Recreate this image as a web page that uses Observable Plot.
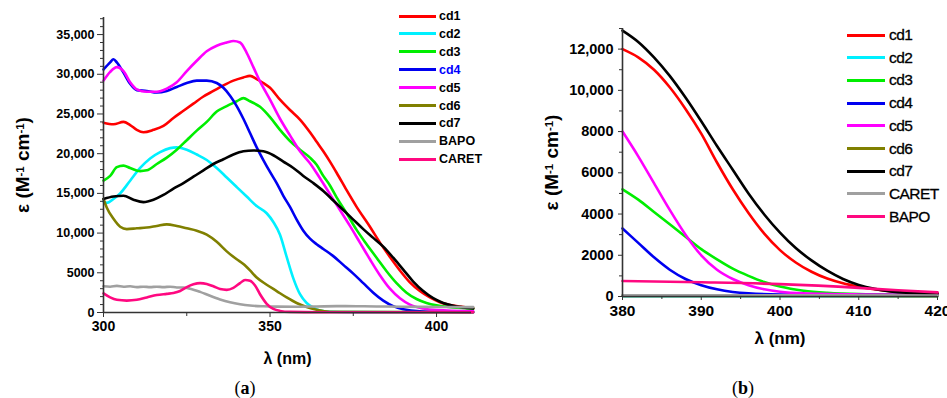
<!DOCTYPE html>
<html><head><meta charset="utf-8">
<script src="https://cdn.jsdelivr.net/npm/d3@7"></script>
<script src="https://cdn.jsdelivr.net/npm/@observablehq/plot@0.6"></script>
<style>
body{margin:0;background:#fff;}
#wrap{position:relative;width:947px;height:398px;overflow:hidden;font-family:"Liberation Sans",Arial,sans-serif;background:#fff;}
.panel{position:absolute;top:0;}
.leg{position:absolute;display:flex;align-items:center;white-space:nowrap;}
.leg i{display:block;height:3px;}
.cap{position:absolute;font-family:"Liberation Serif","DejaVu Serif",serif;font-size:18px;transform:translate(-50%,-50%);}
</style></head><body><div id="wrap"></div>
<script>
// ---------- Panel (a) data: [wavelength nm, epsilon] ----------
const a_cd1 = [[300,23900],[303,23700],[306,24000],[308,23600],[310,23000],[312,22700],[315,23000],[318,23500],[321,24500],[324,25400],[327,26300],[330,27200],[333,27900],[336,28600],[339,29200],[342,29600],[344,29800],[346,29400],[348,28900],[350,28300],[353,26800],[356,25500],[359,24300],[362,22700],[364,21500],[366,20300],[368,19000],[370,17600],[373,15400],[376,13300],[380,10800],[383,8800],[386,7000],[389,5300],[392,3800],[395,2700],[398,1900],[401,1300],[404,950],[407,750],[411,550]];
const a_cd2 = [[300,14000],[301,13800],[303,14300],[305,15000],[308,16600],[311,18200],[314,19400],[317,20200],[320,20700],[322,20800],[325,20500],[328,19900],[331,19200],[334,18200],[337,17000],[340,15800],[343,14600],[346,13400],[349,12500],[351,11400],[353,9800],[355,7000],[357,4300],[359,2300],[361,1200],[363,600],[365,250],[368,100],[375,50],[411,30]];
const a_cd3 = [[300,16600],[302,17200],[304,18300],[306,18500],[308,18200],[311,17800],[313,17900],[316,18700],[319,19500],[322,20500],[325,21700],[328,22900],[331,24000],[334,25300],[337,26000],[340,26600],[342,27000],[344,26600],[347,25900],[350,24600],[353,23000],[356,21600],[359,20500],[362,19500],[364,18600],[366,17200],[368,16000],[370,14500],[373,12500],[376,10400],[379,8600],[382,6900],[385,5200],[388,3700],[391,2500],[394,1700],[397,1200],[400,900],[405,650],[411,500]];
const a_cd4 = [[300,30600],[302,31500],[303,31900],[304,31500],[306,30200],[308,28800],[310,28000],[313,27900],[316,27700],[319,27900],[322,28400],[325,28900],[328,29200],[331,29200],[334,28900],[336,28300],[338,27300],[340,26000],[342,24400],[344,22600],[346,20800],[348,19200],[350,17700],[352,16300],[354,14700],[356,13300],[358,11700],[360,10300],[362,9300],[364,8600],[366,8000],[369,7100],[372,6000],[375,4900],[378,3700],[381,2500],[384,1500],[387,800],[390,400],[395,150],[411,50]];
const a_cd5 = [[300,29200],[302,30300],[304,30900],[306,30400],[308,29000],[310,28100],[313,27800],[316,27800],[319,28200],[322,29000],[325,30400],[328,31700],[331,32900],[334,33600],[337,34000],[339,34200],[341,34000],[343,32700],[345,30900],[347,29100],[350,26800],[353,24400],[356,22300],[359,20300],[362,18800],[365,16900],[368,14900],[371,12900],[374,10900],[377,8800],[380,6700],[383,4700],[386,3000],[389,1800],[392,1000],[396,500],[400,300],[411,150]];
const a_cd6 = [[300,14300],[301,13200],[303,11800],[305,10800],[307,10500],[310,10600],[313,10700],[316,10900],[319,11100],[322,10900],[325,10600],[328,10300],[331,9800],[334,8900],[337,7700],[340,6700],[342,6100],[344,5300],[346,4400],[349,3500],[352,2700],[355,1900],[358,1200],[361,700],[364,350],[368,100],[411,30]];
const a_cd7 = [[300,14300],[303,14600],[306,14700],[309,14200],[312,13900],[315,14200],[318,14800],[321,15600],[324,16300],[327,17100],[330,17900],[333,18700],[336,19300],[339,19900],[342,20300],[345,20400],[348,20300],[351,19800],[354,19000],[357,18200],[360,17200],[363,16300],[366,15300],[369,14100],[372,12900],[375,11700],[378,10500],[381,9400],[384,8300],[387,6900],[390,5400],[393,3900],[396,2700],[399,1800],[402,1200],[405,850],[408,650],[411,500]];
const a_bapo = [[300,3300],[302,3250],[304,3350],[306,3250],[308,3300],[310,3200],[312,3250],[314,3200],[316,3250],[318,3200],[320,3250],[322,3150],[324,3150],[326,3000],[329,2600],[332,2100],[335,1650],[338,1300],[341,1050],[344,880],[348,780],[352,740],[358,730],[364,760],[370,800],[376,790],[382,760],[390,720],[400,700],[411,680]];
const a_caret = [[300,2400],[302,1900],[304,1600],[307,1500],[310,1600],[313,1900],[316,2200],[319,2350],[321,2450],[323,2700],[325,3200],[327,3550],[329,3700],[331,3600],[333,3300],[335,2950],[337,2850],[339,3100],[341,3700],[342.5,4100],[344,4000],[345.5,3400],[347,2300],[349,1100],[351,450],[353,200],[356,80],[365,40],[411,30]];

// ---------- Panel (b) data ----------
const b_cd1 = [[380,12000],[382,11600],[384,11000],[386,10150],[388,9100],[390,7900],[392,6500],[394,5200],[396,4050],[398,3050],[400,2250],[402,1650],[404,1200],[406,870],[408,640],[410,480],[412,350],[414,260],[416,200],[418,170],[420,150]];
const b_cd2 = [[380,20],[400,15],[420,10]];
const b_cd3 = [[380,5200],[382,4700],[384,4100],[386,3500],[388,2900],[390,2300],[392,1800],[394,1350],[396,1000],[398,700],[400,480],[403,280],[406,180],[410,120],[420,80]];
const b_cd4 = [[380,3300],[382,2600],[384,1900],[386,1300],[388,850],[390,550],[392,350],[394,220],[396,150],[400,100],[420,60]];
const b_cd5 = [[380,8000],[382,6800],[384,5500],[386,4200],[388,3000],[390,2000],[392,1300],[394,850],[396,550],[398,350],[400,230],[403,150],[410,100],[420,80]];
const b_cd6 = [[380,30],[400,25],[420,20]];
const b_cd7 = [[380,12900],[382,12350],[384,11600],[386,10700],[388,9650],[390,8500],[392,7300],[394,6150],[396,5000],[398,3980],[400,3100],[402,2350],[404,1750],[406,1250],[408,850],[410,560],[412,370],[414,250],[416,180],[418,150],[420,140]];
const b_caret = [[380,60],[400,55],[420,50]];
const b_bapo = [[380,750],[390,690],[400,600],[410,420],[415,300],[420,200]];

// ---------- names, colours, ticks ----------
const namesA = ["cd1","cd2","cd3","cd4","cd5","cd6","cd7","BAPO","CARET"];
const namesB = ["cd1","cd2","cd3","cd4","cd5","cd6","cd7","CARET","BAPO"];
const colors = ["#ff0000","#00f0ff","#00ee00","#0000f0","#ff00ff","#808000","#000000","#a0a0a0","#ff0880"];
const dataA = [a_cd1,a_cd2,a_cd3,a_cd4,a_cd5,a_cd6,a_cd7,a_bapo,a_caret];
const dataB = [b_cd1,b_cd2,b_cd3,b_cd4,b_cd5,b_cd6,b_cd7,b_caret,b_bapo];
const yTicksA = [0,5000,10000,15000,20000,25000,30000,35000];
const xTicksA = [300,350,400];
const xMinorA = [325,375];
const yTicksB = [0,2000,4000,6000,8000,10000,12000];
const xTicksB = [380,390,400,410,420];
const xMinorB = [385,395,405,415];
const yLabel = "ε (M-1 cm-1)";
const xLabel = "λ (nm)";

const fmt = d => d >= 10000 ? d3.format(",")(d) : String(d);
const yMinorA = d3.range(0, 37001, 1000).filter(v => v % 5000);
const yMinorB = d3.range(1000, 13001, 2000);
const blank = () => "";

const wrap = document.getElementById("wrap");

function lines(datas) {
  return datas.map((d, i) => Plot.line(d, {x: p => p[0], y: p => p[1], stroke: colors[i], strokeWidth: 2.6, curve: "monotone-x"}));
}

const plotA = Plot.plot({
  width: 500, height: 372,
  marginLeft: 103, marginRight: 29, marginTop: 17, marginBottom: 60,
  x: {domain: [300, 410.5]},
  y: {domain: [0, 37150]},
  style: {fontFamily: "'Liberation Sans', Arial, sans-serif", fontWeight: "bold", color: "#000", background: "transparent", overflow: "visible"},
  marks: [
    ...lines(dataA),
    Plot.ruleX([300], {stroke: "#333", strokeWidth: 1.6}),
    Plot.ruleY([0], {stroke: "#333", strokeWidth: 1.6}),
    Plot.axisY(yTicksA, {tickSize: 6, tickPadding: 3, tickFormat: fmt, fontSize: 12.5, stroke: "#333", label: yLabel, labelAnchor: "center", labelOffset: 88, labelArrow: "none"}),
    Plot.axisY(yMinorA, {tickSize: 3, stroke: "#333", tickFormat: blank, label: null}),
    Plot.axisX(xTicksA, {tickSize: 5, tickPadding: 4, fontSize: 14, stroke: "#333", label: xLabel, labelAnchor: "center", labelOffset: 51, labelArrow: "none"}),
    Plot.axisX(xMinorA, {tickSize: 4, stroke: "#333", tickFormat: blank, label: null})
  ]
});
plotA.classList.add("panel"); plotA.style.left = "0px";
wrap.appendChild(plotA);

const plotB = Plot.plot({
  width: 467, height: 356,
  marginLeft: 142, marginRight: 10, marginTop: 28, marginBottom: 60,
  x: {domain: [380, 420]},
  y: {domain: [0, 13000]},
  style: {fontFamily: "'Liberation Sans Narrow', 'Liberation Sans', Arial, sans-serif", fontWeight: "bold", color: "#000", background: "transparent", overflow: "visible"},
  marks: [
    ...lines(dataB),
    Plot.ruleX([380], {stroke: "#333", strokeWidth: 1.6}),
    Plot.ruleY([0], {stroke: "#333", strokeWidth: 1.6}),
    Plot.axisY(yTicksB, {tickSize: 4, tickPadding: 5, tickFormat: fmt, fontSize: 14.5, stroke: "#333", label: yLabel, labelAnchor: "center", labelOffset: 78, labelArrow: "none"}),
    Plot.axisY(yMinorB, {tickSize: 3, stroke: "#333", tickFormat: blank, label: null}),
    Plot.axisX(xTicksB, {tickSize: 4, tickPadding: 4, fontSize: 15.5, stroke: "#333", label: xLabel, labelAnchor: "center", labelOffset: 47, labelArrow: "none"}),
    Plot.axisX(xMinorB, {tickSize: 3, stroke: "#333", tickFormat: blank, label: null})
  ]
});
plotB.classList.add("panel"); plotB.style.left = "480px";
wrap.appendChild(plotB);

// rich axis titles (superscripts)
function richY(svg, size) {
  svg.querySelectorAll('[aria-label="y-axis label"] text').forEach(t => {
    t.setAttribute("font-size", size);
    t.setAttribute("font-weight", "bold");
    t.textContent = "";
    const parts = [["ε (M",0],["-1",1],[" cm",0],["-1",1],[")",0]];
    let shifted = false;
    for (const [s, sup] of parts) {
      const ts = document.createElementNS("http://www.w3.org/2000/svg", "tspan");
      ts.textContent = s;
      if (sup && !shifted) { ts.setAttribute("dy", "-0.45em"); ts.setAttribute("font-size", "0.6em"); shifted = true; }
      else if (!sup && shifted) { ts.setAttribute("dy", "0.27em"); shifted = false; }
      else if (sup) ts.setAttribute("font-size", "0.6em");
      t.appendChild(ts);
    }
  });
}
function sizeX(svg, size) {
  svg.querySelectorAll('[aria-label="x-axis label"] text').forEach(t => {
    t.setAttribute("font-size", size); t.setAttribute("font-weight", "bold");
    t.textContent = t.textContent.replace(/\s*[→←↑↓]\s*/g, "").trim();
  });
}
richY(plotA, 19); sizeX(plotA, 16);
richY(plotB, 19); sizeX(plotB, 17);

// legends
function legend(names, left, top, step, lineW, gap, fontCss, textColor) {
  names.forEach((n, i) => {
    const row = document.createElement("div");
    row.className = "leg";
    row.style.left = left + "px";
    row.style.top = (top + i * step - 10) + "px";
    row.style.height = "20px";
    const ln = document.createElement("i");
    ln.style.width = lineW + "px";
    ln.style.background = colors[i];
    const tx = document.createElement("span");
    tx.textContent = n;
    tx.style.cssText = fontCss + ";margin-left:" + gap + "px;color:" + textColor(n);
    row.append(ln, tx);
    wrap.appendChild(row);
  });
}
legend(namesA, 399, 16, 17.9, 37, 3, "font:bold 12.5px 'Liberation Sans',Arial,sans-serif", n => n === "cd4" ? "#0000ff" : "#000");
legend(namesB, 847, 35, 22.7, 38, 4, "font:15.5px 'Liberation Sans',Arial,sans-serif;letter-spacing:-0.6px;-webkit-text-stroke:0.3px #000", n => "#000");

// captions
[["a", 245], ["b", 743]].forEach(([l, x]) => {
  const c = document.createElement("div");
  c.className = "cap";
  c.style.left = x + "px"; c.style.top = "388px";
  c.innerHTML = "(<b>" + l + "</b>)";
  wrap.appendChild(c);
});
</script></body></html>
